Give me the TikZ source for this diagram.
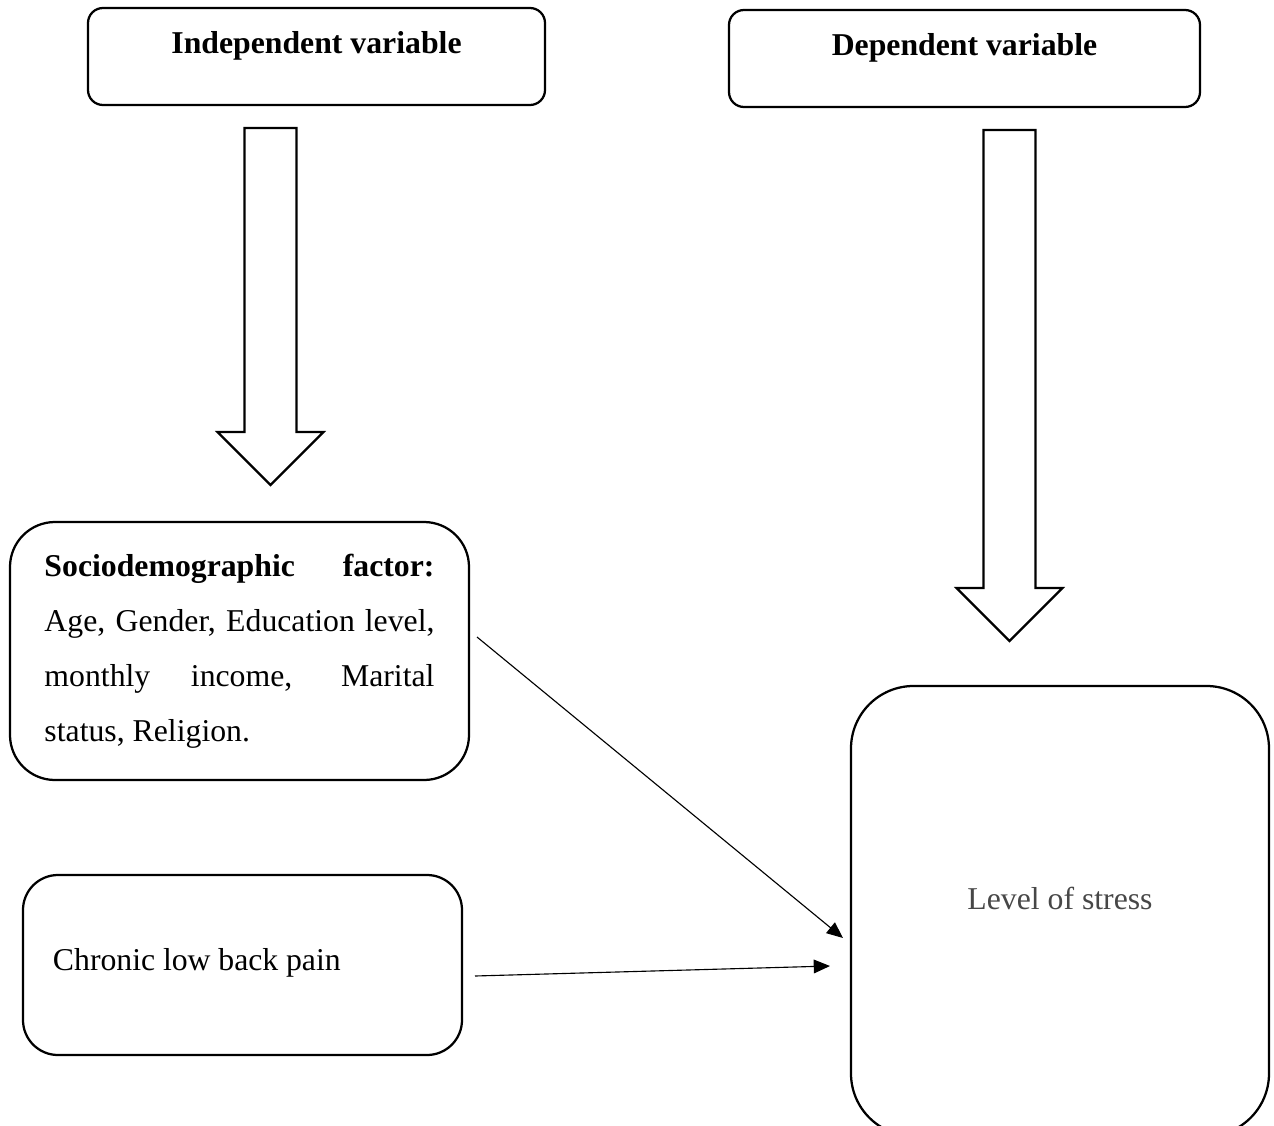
\documentclass[tikz,border=0pt]{standalone}
\usepackage{fontspec}
\setmainfont{Liberation Serif}
\usetikzlibrary{shapes,arrows,arrows.meta,calc,positioning}
\tikzset{
  varbox/.style={draw, rectangle, rounded corners=6pt, line width=0.9pt, minimum width=182.8pt, inner ysep=0pt, text height=18pt, text depth=20.8pt, font=\fontsize{12.7}{15}\selectfont\bfseries},
  factorbox/.style={draw, rectangle, line width=0.9pt, font=\fontsize{12.7}{22}\selectfont},
  fatarrow/.style={draw, line width=0.9pt, fill=white, line join=miter},
  link/.style={-{Triangle[length=6.5pt,width=5.5pt]}, line width=0.45pt}
}
\begin{document}
\begin{tikzpicture}[x=0.4pt, y=-0.4pt]
  \useasboundingbox (0,0) rectangle (1274,1126);
  % variable headers
  \node[varbox] (indep) at (316.5,56.5) {Independent variable};
  \node[varbox, minimum width=188.4pt] (dep) at (964.5,58.5) {Dependent variable};
  % factors
  \node[factorbox, rounded corners=18pt, minimum width=183.6pt, minimum height=103.2pt, text width=156pt, align=justify] (socio) at (239.5,651)
    {\textbf{Sociodemographic factor:}\linebreak Age, Gender, Education level,\linebreak monthly income, Marital\linebreak status, Religion.};
  \node[factorbox, rounded corners=14pt, minimum width=175.6pt, minimum height=72pt, inner xsep=12pt, text width=151.6pt, align=left, text depth=4.5pt] (pain) at (242.5,965)
    {\spaceskip=3.1pt Chronic low back pain};
  \node[factorbox, rounded corners=25pt, minimum width=167.2pt, minimum height=180pt, text=black!72, text depth=10pt] (stress) at (1060,911)
    {Level of stress};
  % block arrows
  \foreach \cx/\top/\neck/\tip in {270.5/128/432/485, 1009.5/130/588/641}
    \draw[fatarrow] (\cx-26,\top) -- (\cx+26,\top) -- (\cx+26,\neck) -- (\cx+53,\neck)
      -- (\cx,\tip) -- (\cx-53,\neck) -- (\cx-26,\neck) -- cycle;
  % links
  \coordinate (socio out) at (477,637);
  \coordinate (pain out) at (475,976);
  \coordinate (stress in1) at (843,938);
  \coordinate (stress in2) at (830,966);
  \draw[link] (socio out) -- (stress in1);
  \draw[link] (pain out) -- (stress in2);
\end{tikzpicture}
\end{document}
